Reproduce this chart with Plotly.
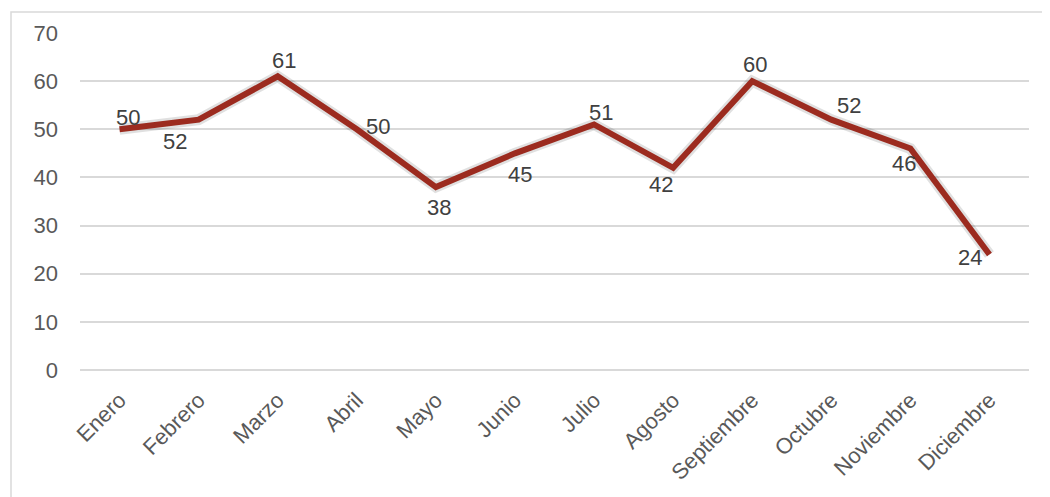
import plotly.graph_objects as go

months = ["Enero", "Febrero", "Marzo", "Abril", "Mayo", "Junio", "Julio",
          "Agosto", "Septiembre", "Octubre", "Noviembre", "Diciembre"]
values = [50, 52, 61, 50, 38, 45, 51, 42, 60, 52, 46, 24]
y_ticks = [0, 10, 20, 30, 40, 50, 60, 70]

# label offsets in pixels (style only)
label_dx = [8, -24, 6, 21, 3, 5, 7, -12, 3, 18, -6, -19]
label_dy = [-12, 22, -16, -3, 20, 21, -12, 17, -17, -14, 15, 3]

LINE = "#9C2B1F"
FONT = "Liberation Sans, Arial, sans-serif"

# page body has an 8px margin; figure sized/positioned to compensate
W, H = 1042, 489
ML, MR, MT, MB = 72, 21, 25, 125
PW = W - ML - MR
PH = H - MT - MB

fig = go.Figure()
# soft shadow
fig.add_trace(go.Scatter(x=months, y=values, mode="lines",
                         line=dict(color="rgba(0,0,0,0.12)", width=11),
                         hoverinfo="skip", showlegend=False))
fig.add_trace(go.Scatter(x=months, y=values, mode="lines",
                         line=dict(color=LINE, width=6),
                         showlegend=False))

for m, v, dx, dy in zip(months, values, label_dx, label_dy):
    fig.add_annotation(x=m, y=v, text=str(v), showarrow=False,
                       xshift=dx, yshift=-dy,
                       font=dict(family=FONT, size=22, color="#404040"))

fig.update_layout(
    width=W, height=H,
    margin=dict(l=ML, r=MR, t=MT, b=MB),
    paper_bgcolor="white", plot_bgcolor="white",
    font=dict(family=FONT, size=22, color="#595959"),
    xaxis=dict(type="category", range=[-0.5, 11.5], tickangle=-45,
               showgrid=False, showline=False, zeroline=False,
               ticks="", ticklabelstandoff=12,
               tickfont=dict(size=22, color="#595959")),
    yaxis=dict(range=[0, 70], tickvals=y_ticks, showgrid=True,
               gridcolor="#D9D9D9", gridwidth=1.5,
               zeroline=True, zerolinecolor="#D9D9D9", zerolinewidth=2,
               showline=False, ticks="", ticklabelstandoff=21,
               tickfont=dict(size=22, color="#595959")),
)

# outer chart frame
fig.add_shape(type="rect", xref="paper", yref="paper",
              x0=(3 - ML) / PW, x1=(W + 20 - ML) / PW,
              y0=-(MB + 20) / PH, y1=(PH + MT - 4) / PH,
              line=dict(color="#D9D9D9", width=1.5), layer="below")

fig.write_html("out.html")
